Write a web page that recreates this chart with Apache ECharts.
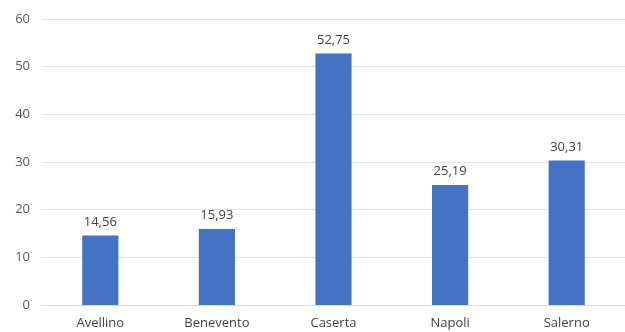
<!DOCTYPE html>
<html><head><meta charset="utf-8">
<script src="https://cdn.jsdelivr.net/npm/echarts@6/dist/echarts.min.js"></script>
<style>html,body{margin:0;padding:0;background:#fff}#c{width:625px;height:332px}</style>
</head><body><div id="c"></div>
<script>
const categories = ["Avellino", "Benevento", "Caserta", "Napoli", "Salerno"];
const values = [14.56, 15.93, 52.75, 25.19, 30.31];
const yTicks = [0, 10, 20, 30, 40, 50, 60];

const chart = echarts.init(document.getElementById('c'), null, {renderer: 'canvas'});
chart.setOption({
  animation: false,
  grid: {left: 42, top: 19, width: 594, height: 286, containLabel: false},
  xAxis: {
    type: 'category', data: categories,
    axisLine: {show: true, lineStyle: {color: '#d9d9d9'}},
    axisTick: {show: false},
    axisLabel: {color: '#404040', fontSize: 13, fontFamily: 'Open Sans, sans-serif', margin: 12}
  },
  yAxis: {
    type: 'value', min: yTicks[0], max: yTicks[yTicks.length-1], interval: 10,
    axisLine: {show: false}, axisTick: {show: false},
    splitLine: {lineStyle: {color: '#e4e4e4'}},
    axisLabel: {color: '#595959', fontSize: 13, fontFamily: 'Open Sans, sans-serif', margin: 12}
  },
  series: [{
    type: 'bar', data: values, barWidth: '31%',
    itemStyle: {color: '#4472C4'},
    label: {show: true, position: 'top', distance: 7, color: '#404040', fontSize: 13,
      fontFamily: 'Open Sans, sans-serif',
      formatter: p => p.value.toFixed(2).replace('.', ',')}
  }]
});
</script></body></html>
